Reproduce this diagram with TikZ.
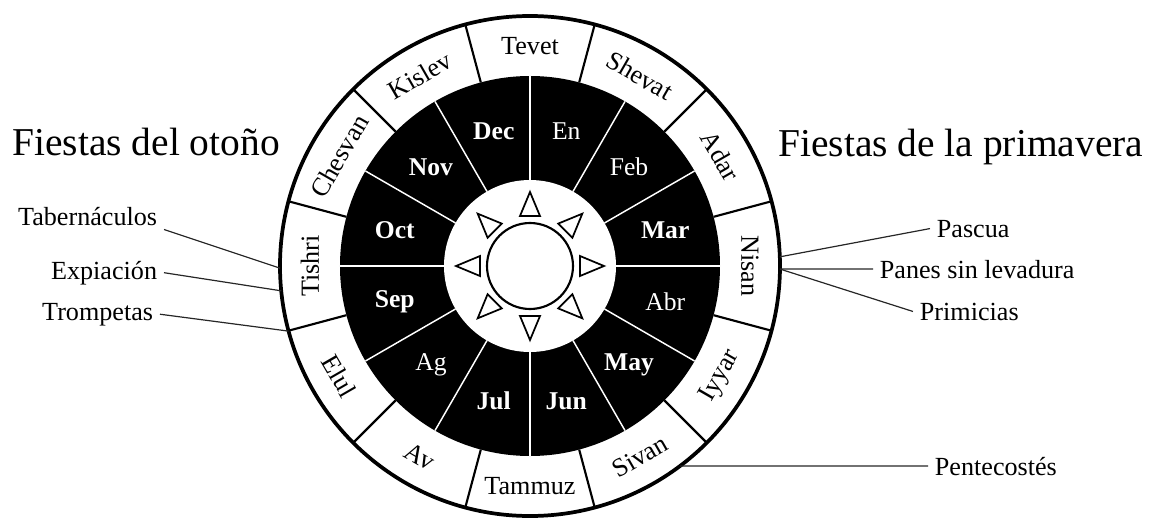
\documentclass[tikz,border=0pt]{standalone}
\usepackage{fontspec}
\setmainfont{Liberation Serif}

\begin{document}
\begin{tikzpicture}[
    x=0.75pt, y=0.75pt,
    titlestyle/.style={font=\fontsize{29.6}{34}\selectfont, inner sep=0pt},
    feaststyle/.style={font=\fontsize{19.6}{23}\selectfont, inner xsep=5pt, inner ysep=3pt},
    hebstyle/.style={font=\fontsize{19.6}{23}\selectfont, inner sep=0pt},
    monthstyle/.style={font=\fontsize{19.2}{23}\selectfont, text=white, inner sep=0pt},
    divider/.style={line width=1.6pt},
    whitedivider/.style={draw=white, line width=1.1pt},
    sunray/.style={line width=1.3pt, fill=white, line join=miter},
    link/.style={draw=black!85, line width=0.9pt}
  ]
    \useasboundingbox (-530,-252) rectangle (619,266);
    % rings
    \draw[line width=2.8pt, fill=white] (0,0) circle[radius=250];
    \fill[black] (0,0) circle[radius=190];
    \fill[white] (0,0) circle[radius=86];
    \foreach \a in {15,45,...,345}
        \draw[divider] (\a:190) -- (\a:250);
    \foreach \a in {0,30,...,330}
        \draw[whitedivider] (\a:86) -- (\a:190);
    % sun
    \draw[line width=1.6pt] (0,0) circle[radius=43];
    \foreach \a in {0,45,...,315}
        \draw[sunray, rotate=\a] (50,-10) -- (74,0) -- (50,10) -- cycle;
    % hebrew months (outer ring)
    \foreach \name/\ang/\rot in {Tevet/90/0, Shevat/60/-30, Adar/30/-60, Nisan/0/-90,
        Iyyar/-30/60, Sivan/-60/30, Tammuz/-90/0, Av/-120/-30, Elul/-150/-60,
        Tishri/180/90, Chesvan/150/60, Kislev/120/30}
        \node[hebstyle, rotate=\rot] (\name) at (\ang:220) {\name};
    % months (black ring)
    \foreach \m/\ang [count=\i] in {\textbf{Dec}/105, En/75, Feb/45, \textbf{Mar}/15,
        Abr/-15, \textbf{May}/-45, \textbf{Jun}/-75, \textbf{Jul}/-105, Ag/-135,
        \textbf{Sep}/-165, \textbf{Oct}/165, \textbf{Nov}/135}
        \node[monthstyle] (month\i) at (\ang:140) {\m};
    % titles
    \node[titlestyle, anchor=base west] (otono) at (-518,111) {Fiestas del otoño};
    \node[titlestyle, anchor=base west] (primavera) at (248,109) {Fiestas de la primavera};
    % autumn feasts
    \node[feaststyle, anchor=base east] (tabernaculos) at (-366,41) {Tabernáculos};
    \node[feaststyle, anchor=base east] (expiacion) at (-366,-13) {Expiación};
    \node[feaststyle, anchor=base east] (trompetas) at (-370,-54) {Trompetas};
    % spring feasts
    \node[feaststyle, anchor=base west] (pascua) at (400,29) {Pascua};
    \node[feaststyle, anchor=base west] (panes) at (343,-12) {Panes sin levadura};
    \node[feaststyle, anchor=base west] (primicias) at (383,-54) {Primicias};
    \node[feaststyle, anchor=base west] (pentecostes) at (398,-209) {Pentecostés};
    % points on the rim
    \coordinate (tabpt) at (180.5:250);
    \coordinate (exppt) at (185.7:250);
    \coordinate (trompt) at (195.1:250);
    \coordinate (pascuapt) at (2.1:250);
    \coordinate (nisanpt) at (-0.7:250);
    \coordinate (pentpt) at (-53.1:250);
    \draw[link] (tabernaculos.south east) -- (tabpt);
    \draw[link] (expiacion.east) -- (exppt);
    \draw[link] (trompetas.east) -- (trompt);
    \draw[link] (pascua.west) -- (pascuapt);
    \draw[link] (panes.west) -- (nisanpt);
    \draw[link] (primicias.west) -- (nisanpt);
    \draw[link] (pentecostes.west) -- (pentpt);
\end{tikzpicture}
\end{document}
